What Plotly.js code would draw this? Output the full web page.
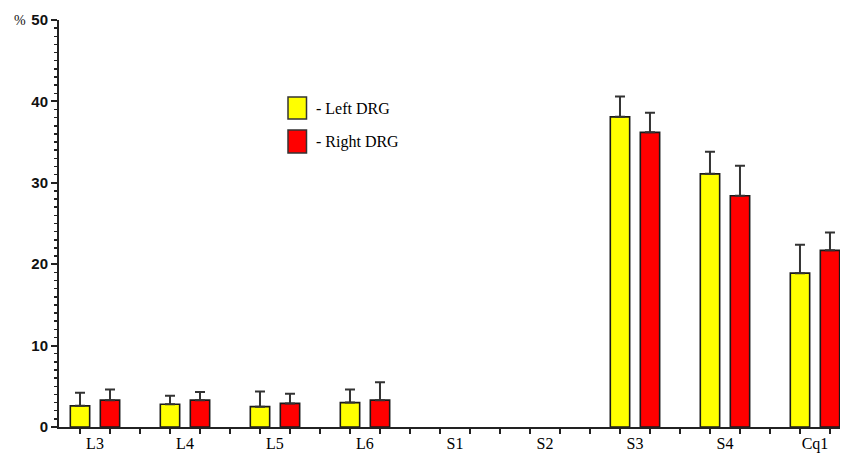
<!DOCTYPE html>
<html><head><meta charset="utf-8">
<script src="https://cdn.plot.ly/plotly-3.0.1.min.js"></script>
<style>html,body{margin:0;padding:0;background:#fff}#chart{width:844px;height:454px}</style>
</head><body><div id="chart"></div>
<script>
const categories = ["L3","L4","L5","L6","S1","S2","S3","S4","Cq1"];
const leftDRG  = [2.6, 2.8, 2.5, 3.0, 0, 0, 38.1, 31.1, 18.9];
const leftErr  = [1.6, 1.05, 1.85, 1.6, 0, 0, 2.5, 2.7, 3.5];
const rightDRG = [3.3, 3.3, 2.9, 3.3, 0, 0, 36.2, 28.4, 21.7];
const rightErr = [1.3, 1.0, 1.2, 2.2, 0, 0, 2.4, 3.7, 2.2];
const seriesNames = ["- Left DRG", "- Right DRG"];
const yTicks = [0, 10, 20, 30, 40, 50];

const xs = categories.map((c, i) => i);
const W = 0.215;
function tr(vals, errs, color, off, name) {
  return {
    type: 'bar', x: xs, y: vals, name: name, width: W, offset: off,
    marker: {color: color, line: {color: '#1a1a1a', width: vals.map(v => v ? 1.6 : 0)}},
    error_y: {type: 'data', array: errs.map((e, i) => vals[i] ? e : NaN),
              arrayminus: vals.map(v => v ? 0 : NaN), symmetric: false,
              color: '#333', thickness: 2, width: 5},
    showlegend: false, hoverinfo: 'none'
  };
}
const data = [
  tr(leftDRG, leftErr, '#FFFF00', -1/6 - W/2, seriesNames[0]),
  tr(rightDRG, rightErr, '#FF0000', 1/6 - W/2, seriesNames[1])
];
const px = p => (p - 59) / 781, py = p => (427 - p) / 407;
const layout = {
  width: 844, height: 454,
  margin: {l: 59, r: 4, t: 20, b: 27},
  paper_bgcolor: '#fff', plot_bgcolor: '#fff',
  xaxis: {
    range: [-0.4, 8.278], tickmode: 'array', tickvals: xs, ticktext: categories,
    ticks: '', showgrid: false, zeroline: false, ticklabelstandoff: 1,
    showline: true, linecolor: '#222', linewidth: 2,
    tickfont: {family: 'Liberation Serif, serif', size: 16, color: '#000'},
    minor: {ticks: 'outside', tick0: -1/6, dtick: 1/3, ticklen: 5, tickwidth: 2, tickcolor: '#222', showgrid: false},
    fixedrange: true
  },
  yaxis: {
    range: [0, 50], tickmode: 'array', tickvals: yTicks,
    ticks: 'outside', ticklen: 6, tickwidth: 2, tickcolor: '#222',
    showgrid: false, zeroline: false,
    showline: true, linecolor: '#222', linewidth: 2,
    tickfont: {family: 'Liberation Sans, Arial, sans-serif', size: 15, color: '#111', weight: 'bold'},
    minor: {ticks: 'outside', dtick: 1, ticklen: 3, tickwidth: 1.5, tickcolor: '#222', showgrid: false},
    fixedrange: true
  },
  shapes: [
    {type: 'rect', xref: 'paper', yref: 'paper', x0: px(288), x1: px(306.5), y0: py(119), y1: py(97),
     fillcolor: '#FFFF00', line: {color: '#333', width: 1.5}},
    {type: 'rect', xref: 'paper', yref: 'paper', x0: px(288), x1: px(306.5), y0: py(153), y1: py(130),
     fillcolor: '#FF0000', line: {color: '#333', width: 1.5}}
  ],
  annotations: [
    {xref: 'paper', yref: 'paper', x: px(314), y: py(109), xanchor: 'left', yanchor: 'middle',
     text: seriesNames[0], showarrow: false, font: {family: 'Liberation Serif, serif', size: 16, color: '#000'}},
    {xref: 'paper', yref: 'paper', x: px(314), y: py(142), xanchor: 'left', yanchor: 'middle',
     text: seriesNames[1], showarrow: false, font: {family: 'Liberation Serif, serif', size: 16, color: '#000'}},
    {xref: 'paper', yref: 'paper', x: px(28), y: py(21), xanchor: 'right', yanchor: 'middle',
     text: '%', showarrow: false, font: {family: 'Liberation Serif, serif', size: 14, color: '#111'}}
  ]
};
Plotly.newPlot('chart', data, layout, {displayModeBar: false, staticPlot: true});
</script>
</body></html>
